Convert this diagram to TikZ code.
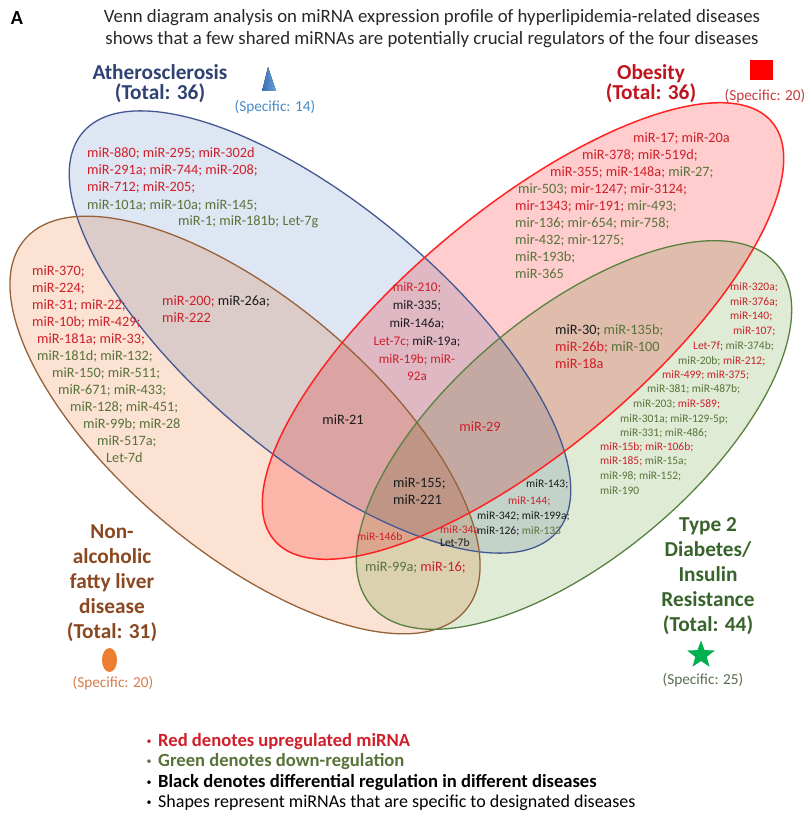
\documentclass[tikz,border=0pt]{standalone}
\usepackage{fontspec}
\setmainfont{Carlito}
\usetikzlibrary{shapes.geometric}

\definecolor{upred}{RGB}{205,32,42}
\definecolor{dngreen}{RGB}{88,115,58}
\definecolor{dfblack}{RGB}{28,28,28}
\definecolor{athfill}{RGB}{223,230,243}
\definecolor{athline}{RGB}{68,88,145}
\definecolor{obefill}{RGB}{255,205,205}
\definecolor{obeline}{RGB}{255,35,35}
\definecolor{nafill}{RGB}{251,226,211}
\definecolor{naline}{RGB}{150,98,58}
\definecolor{tdfill}{RGB}{223,235,213}
\definecolor{tdline}{RGB}{88,130,64}
\definecolor{athlabel}{RGB}{47,66,115}
\definecolor{obelabel}{RGB}{192,20,30}
\definecolor{nalabel}{RGB}{138,72,32}
\definecolor{tdlabel}{RGB}{56,100,44}
\definecolor{titlegray}{RGB}{40,40,40}

\newcommand\mU[1]{\textcolor{upred}{#1}}
\newcommand\mD[1]{\textcolor{dngreen}{#1}}
\newcommand\mX[1]{\textcolor{dfblack}{#1}}

\tikzset{
  mlist/.style={inner sep=0pt, anchor=west, text height=0.68em, text depth=0.12em,
                font=\fontsize{14.3}{17}\selectfont},
  msmall/.style={inner sep=0pt, anchor=west, text height=0.68em, text depth=0.12em,
                 font=\fontsize{11.5}{14.6}\selectfont},
  mmid/.style={inner sep=0pt, align=center, font=\fontsize{13.2}{17.8}\selectfont},
  dlabel/.style={inner sep=0pt, align=center, font=\fontsize{21.3}{25}\selectfont\bfseries},
  spec/.style={inner sep=0pt, font=\fontsize{15.3}{17}\selectfont},
  legtext/.style={inner sep=0pt, anchor=west, font=\fontsize{18}{20}\selectfont},
  legbold/.style={legtext, font=\fontsize{18.6}{20}\selectfont\bfseries},
  athset/.style={rotate around={-40:(320,332)}},
  obeset/.style={rotate around={40:(523,331)}},
  naset/.style={rotate around={-40:(245,425)}},
  tdset/.style={rotate around={40:(574,435)}},
}

\begin{document}
\begin{tikzpicture}[x=1pt,y=-1pt]
\fill[white] (0,0) rectangle (811,818);
\useasboundingbox (0,0) rectangle (811,818);

% ---- heading ----
\node[inner sep=0pt, font=\fontsize{20}{22}\selectfont\bfseries] (panel) at (17,18) {A};
\node[inner sep=0pt, align=center, text=titlegray, font=\fontsize{18.8}{22}\selectfont] (heading) at (432,29)
  {Venn diagram analysis on miRNA expression profile of hyperlipidemia-related diseases\\
   shows that a few shared miRNAs are potentially crucial regulators of the four diseases};

% ---- the four sets: fills, multiplied so the overlaps darken ----
\begin{scope}[blend mode=multiply]
\fill[athfill, athset] (320,332) ellipse [x radius=310pt, y radius=125pt];
\fill[obefill, obeset] (523,331) ellipse [x radius=325pt, y radius=120pt];
\fill[nafill, naset] (245,425) ellipse [x radius=288pt, y radius=126pt];
\fill[tdfill, tdset] (574,435) ellipse [x radius=265pt, y radius=122pt];
\end{scope}
% ---- outlines ----
\draw[athline, line width=1.3pt, athset] (320,332) ellipse [x radius=310pt, y radius=125pt];
\draw[naline, line width=1.3pt, naset] (245,425) ellipse [x radius=288pt, y radius=126pt];
\draw[tdline, line width=1.3pt, tdset] (574,435) ellipse [x radius=265pt, y radius=122pt];
\draw[obeline, line width=1.5pt, obeset] (523,331) ellipse [x radius=325pt, y radius=120pt];

% ---- set labels ----
\node[dlabel, text=athlabel] (athname) at (160,84) {Atherosclerosis\\[-5pt](Total: 36)};
\node[dlabel, text=obelabel] (obename) at (651,84) {Obesity\\[-5pt](Total: 36)};
\node[dlabel, text=nalabel] (naname) at (112,583) {Non-\\alcoholic\\fatty liver\\disease\\(Total: 31)};
\node[dlabel, text=tdlabel] (tdname) at (708,576) {Type 2\\Diabetes/\\Insulin\\Resistance\\(Total: 44)};

% ---- specific-miRNA markers ----
\fill[left color={rgb,255:red,60;green,110;blue,180}, right color={rgb,255:red,100;green,160;blue,220}] (262,91) -- (268,67) -- (276,91) -- cycle;
\node[spec, text={rgb,255:red,70;green,140;blue,200}] (athspec) at (275,107) {(Specific: 14)};
\node[fill={rgb,255:red,255;green,0;blue,0}, minimum width=23pt, minimum height=20pt, inner sep=0pt] (obemark) at (761.5,70) {};
\node[spec, text={rgb,255:red,200;green,60;blue,60}] (obespec) at (765,96) {(Specific: 20)};
\node[ellipse, fill={rgb,255:red,237;green,125;blue,49}, minimum width=15pt, minimum height=24pt, inner sep=0pt] (namark) at (109.5,660) {};
\node[spec, text={rgb,255:red,215;green,125;blue,75}] (naspec) at (113,683) {(Specific: 20)};
\node[star, star points=5, star point ratio=2.4, fill={rgb,255:red,0;green,176;blue,80}, minimum size=29pt, inner sep=0pt] (tdmark) at (701,655) {};
\node[spec, text={rgb,255:red,90;green,110;blue,80}] (tdspec) at (703,680) {(Specific: 25)};

% ---- Atherosclerosis only ----
\node[mlist] (ath1) at (87,155) {\mU{miR-880; miR-295; miR-302d}};
\node[mlist] (ath2) at (87,172) {\mU{miR-291a; miR-744; miR-208;}};
\node[mlist] (ath3) at (87,189) {\mU{miR-712; miR-205;}};
\node[mlist] (ath4) at (87,207) {\mD{miR-101a; miR-10a; miR-145;}};
\node[mlist] (ath5) at (178,223) {\mD{miR-1; miR-181b; Let-7g}};

% ---- Obesity only ----
\node[mlist] (obe1) at (633,140) {\mU{miR-17; miR-20a}};
\node[mlist] (obe2) at (582,157) {\mU{miR-378; miR-519d;}};
\node[mlist] (obe3) at (550,174) {\mU{miR-355; miR-148a;} \mD{miR-27;}};
\node[mlist] (obe4) at (518,191) {\mD{mir-503;} \mU{mir-1247; mir-3124;}};
\node[mlist] (obe5) at (515,208) {\mU{mir-1343; mir-191;} \mD{mir-493;}};
\node[mlist] (obe6) at (515,225) {\mD{mir-136; mir-654; mir-758;}};
\node[mlist] (obe7) at (515,242) {\mD{mir-432; mir-1275;}};
\node[mlist] (obe8) at (515,259) {\mD{miR-193b;}};
\node[mlist] (obe9) at (515,276) {\mD{miR-365}};

% ---- NAFLD only ----
\node[mlist] (na1) at (32,273) {\mU{miR-370;}};
\node[mlist] (na2) at (32,290) {\mU{miR-224;}};
\node[mlist] (na3) at (32,307) {\mU{miR-31; miR-22;}};
\node[mlist] (na4) at (32,324) {\mU{miR-10b; miR-429;}};
\node[mlist] (na5) at (37,341) {\mU{miR-181a; miR-33;}};
\node[mlist] (na6) at (37,358) {\mD{miR-181d; miR-132;}};
\node[mlist] (na7) at (52,375) {\mD{miR-150; miR-511;}};
\node[mlist] (na8) at (58,392) {\mD{miR-671; miR-433;}};
\node[mlist] (na9) at (70,409) {\mD{miR-128; miR-451;}};
\node[mlist] (na10) at (83,426) {\mD{miR-99b; miR-28}};
\node[mlist] (na11) at (97,443) {\mD{miR-517a;}};
\node[mlist] (na12) at (106,460) {\mD{Let-7d}};

% ---- T2D only ----
\node[msmall] (td1) at (730,288) {\mU{miR-320a;}};
\node[msmall] (td2) at (730,303) {\mU{miR-376a;}};
\node[msmall] (td3) at (730,317) {\mU{miR-140;}};
\node[msmall] (td4) at (733,332) {\mU{miR-107;}};
\node[msmall] (td5) at (693,347) {\mU{Let-7f;} \mD{miR-374b;}};
\node[msmall] (td6) at (678,362) {\mD{miR-20b;} \mU{miR-212;}};
\node[msmall] (td7) at (662,376) {\mU{miR-499; miR-375;}};
\node[msmall] (td8) at (647,390) {\mD{miR-381; miR-487b;}};
\node[msmall] (td9) at (633,405) {\mD{miR-203;} \mU{miR-589;}};
\node[msmall] (td10) at (620,420) {\mD{miR-301a; miR-129-5p;}};
\node[msmall] (td11) at (620,434) {\mD{miR-331; miR-486;}};
\node[msmall] (td12) at (600,448) {\mU{miR-15b; miR-106b;}};
\node[msmall] (td13) at (600,462) {\mU{miR-185;} \mD{miR-15a;}};
\node[msmall] (td14) at (600,477) {\mD{miR-98; miR-152;}};
\node[msmall] (td15) at (600,492) {\mD{miR-190}};

% ---- shared regions ----
\node[mlist] (an1) at (162,303) {\mU{miR-200;} \mX{miR-26a;}};
\node[mlist] (an2) at (162,320) {\mU{miR-222}};
\node[mmid] (ao) at (417,332) {\mU{miR-210;}\\\mX{miR-335;}\\\mX{miR-146a;}\\\mU{Let-7c;} \mX{miR-19a;}\\\mU{miR-19b; miR-}\\\mU{92a}};
\node[mlist] (ot1) at (555,332) {\mX{miR-30;} \mD{miR-135b;}};
\node[mlist] (ot2) at (555,349) {\mU{miR-26b;} \mD{miR-100}};
\node[mlist] (ot3) at (555,366) {\mU{miR-18a}};
\node[mlist, anchor=center] (aon) at (343,422) {\mX{miR-21}};
\node[mlist, anchor=center] (aot) at (480,429) {\mU{miR-29}};
\node[mlist] (all1) at (393,485) {\mX{miR-155;}};
\node[mlist] (all2) at (393,502) {\mX{miR-221}};
\node[msmall] (at1) at (526,485) {\mX{miR-143;}};
\node[msmall] (at2) at (508,502) {\mU{miR-144;}};
\node[msmall] (at3) at (477,517) {\mX{miR-342; miR-199a;}};
\node[msmall] (at4) at (477,532) {\mX{miR-126;} \mD{miR-133}};
\node[msmall] (ant1) at (440,531) {\mU{miR-34a}};
\node[msmall] (ant2) at (440,544) {\mX{Let-7b}};
\node[msmall] (aont) at (357,538) {\mU{miR-146b}};
\node[mlist] (nt) at (365,569) {\mD{miR-99a;} \mU{miR-16;}};

% ---- legend ----
\node[inner sep=0pt, text=upred] (lb1) at (149,742) {\textbullet};
\node[legbold, text=upred] (lg1) at (158,742) {Red denotes upregulated miRNA};
\node[inner sep=0pt, text=dngreen] (lb2) at (149,762) {\textbullet};
\node[legbold, text=dngreen] (lg2) at (158,762) {Green denotes down-regulation};
\node[inner sep=0pt, text=black] (lb3) at (149,783) {\textbullet};
\node[legbold, text=black] (lg3) at (158,783) {Black denotes differential regulation in different diseases};
\node[inner sep=0pt, text=black] (lb4) at (149,803) {\textbullet};
\node[legtext, text=black] (lg4) at (158,803) {Shapes represent miRNAs that are specific to designated diseases};
\end{tikzpicture}
\end{document}
